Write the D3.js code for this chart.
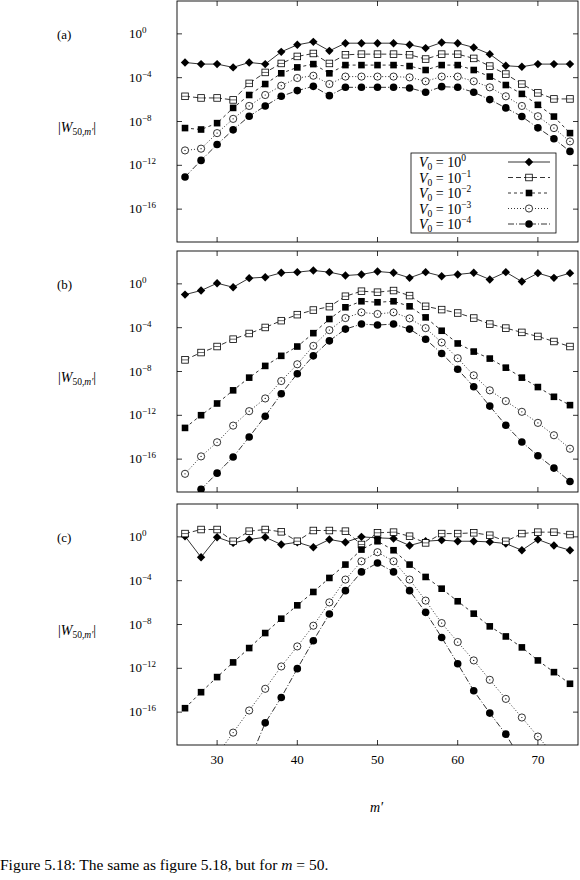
<!DOCTYPE html>
<html><head><meta charset="utf-8">
<script src="https://cdn.jsdelivr.net/npm/d3@7"></script>
<style>body{margin:0;background:#fff}svg{font-family:"Liberation Serif","DejaVu Serif",serif}</style>
</head><body><svg id="c" width="580" height="880"></svg>
<script>
// m' values (even 26..74)
const mVals = d3.range(26, 75, 2);
const xTicks = [30, 40, 50, 60, 70];
const yTickExps = [0, -4, -8, -12, -16];
const panelLabels = ["(a)", "(b)", "(c)"];
const legendExps = ["0", "\u22121", "\u22122", "\u22123", "\u22124"];
// log10 |W| per series per panel
const a1 = [-2.61,-2.76,-2.76,-3.06,-2.61,-2.76,-1.64,-1.0,-0.73,-1.55,-0.85,-0.85,-0.85,-0.85,-1.0,-1.3,-0.79,-0.85,-1.24,-1.85,-2.91,-3.0,-2.76,-2.76,-2.76];
const a2 = [-5.7,-5.85,-5.85,-6.03,-4.52,-3.52,-2.7,-2.06,-1.79,-2.7,-1.91,-1.85,-1.85,-1.85,-1.91,-2.3,-1.85,-1.85,-2.24,-2.94,-3.67,-4.58,-5.39,-5.94,-5.94];
const a3 = [-8.6,-8.73,-8.15,-6.76,-5.58,-4.58,-3.6,-3.06,-2.76,-3.6,-2.85,-2.85,-2.85,-2.85,-2.94,-3.3,-2.85,-2.85,-3.3,-3.9,-4.67,-5.48,-6.48,-7.55,-9.06];
const a4 = [-10.64,-10.48,-9.06,-7.76,-6.58,-5.58,-4.73,-4.03,-3.82,-4.58,-3.9,-3.9,-3.9,-3.9,-3.97,-4.33,-3.9,-3.9,-4.33,-4.88,-5.7,-6.58,-7.52,-8.6,-9.82];
const a5 = [-13.06,-11.55,-10.1,-8.76,-7.52,-6.58,-5.7,-5.18,-4.79,-5.64,-4.88,-4.88,-4.88,-4.88,-4.94,-5.33,-4.82,-4.88,-5.33,-6.0,-6.76,-7.55,-8.58,-9.58,-10.73];
const b1 = [-0.98,-0.61,0.06,-0.31,0.52,0.61,1.01,1.07,1.22,1.07,0.76,0.86,1.13,1.01,0.55,1.07,0.7,0.86,1.01,0.4,1.07,0.21,0.98,0.55,0.98];
const b2 = [-6.94,-6.27,-5.72,-5.05,-4.53,-3.98,-3.36,-2.81,-2.39,-2.08,-1.13,-0.67,-0.76,-0.61,-1.07,-2.05,-2.35,-2.66,-3.12,-3.67,-4.04,-4.43,-4.8,-5.26,-5.72];
const b3 = [-13.15,-11.99,-10.92,-9.72,-8.56,-7.49,-6.57,-5.72,-4.5,-3.21,-2.14,-1.59,-1.68,-1.59,-2.05,-3.06,-4.28,-5.44,-6.18,-6.82,-7.65,-8.56,-9.42,-10.31,-11.07];
const b4 = [-17.34,-15.75,-14.46,-12.94,-11.62,-10.46,-8.87,-7.34,-5.66,-4.22,-3.12,-2.6,-2.75,-2.6,-3.15,-4.04,-5.35,-6.79,-8.35,-9.72,-10.7,-11.68,-12.69,-13.82,-15.05];
const b5 = [-20.2,-18.75,-17.28,-15.81,-13.98,-12.08,-10.03,-8.2,-6.57,-5.2,-4.13,-3.67,-3.76,-3.67,-4.13,-5.05,-6.36,-7.8,-9.39,-11.16,-12.91,-14.43,-15.69,-16.82,-18.04];
const c1 = [0.06,-1.86,-0.03,-0.55,-0.24,-0.03,-0.7,-0.49,-0.95,-0.24,-0.49,0,-0.09,-0.15,-0.79,-0.4,-0.3,-0.4,-0.4,-0.46,-0.61,-1.22,-0.24,-0.79,-1.22];
const c2 = [0.3,0.67,0.67,-0.4,0.52,0.67,0.46,-0.4,0.58,0.58,0.52,-0.7,0.37,0.43,0.06,-0.55,0.3,0.3,0.37,0.15,-0.4,0.3,0.43,0.43,0.21];
const c3 = [-15.64,-14.18,-12.8,-11.46,-10.15,-8.78,-7.47,-6.25,-5.03,-3.75,-2.53,-1.16,-0.4,-1.22,-2.53,-3.66,-4.73,-5.88,-7.01,-8.17,-9.09,-10.09,-11.28,-12.35,-13.41];
const c4m = d3.range(30, 73, 2);
const c4 = [-19.9,-17.87,-15.85,-13.87,-11.83,-10.0,-8.11,-5.98,-3.9,-2.23,-1.4,-2.23,-3.9,-5.82,-7.87,-9.6,-11.28,-13.05,-14.79,-16.49,-18.23,-19.9];
const c5m = d3.range(34, 69, 2);
const c5 = [-20.5,-16.98,-14.66,-12.03,-9.48,-7.04,-4.91,-3.2,-2.38,-3.2,-4.91,-6.89,-9.18,-11.58,-14.05,-16.09,-18.01,-20.5];

const panels = [
  {top: 1, series: [[mVals,a1],[mVals,a2],[mVals,a3],[mVals,a4],[mVals,a5]], legend: true},
  {top: 251, series: [[mVals,b1],[mVals,b2],[mVals,b3],[mVals,b4],[mVals,b5]]},
  {top: 504, series: [[mVals,c1],[mVals,c2],[mVals,c3],[c4m,c4],[c5m,c5]]}
];
const dashes = [null, "5,3", "3,3", "1,2", "6,2,1,2"];
const L = 177, R = 578, H = 241;
const svg = d3.select("#c");
const x = d3.scaleLinear().domain([25, 75]).range([L, R]);

function marker(g, k, px, py) {
  if (k === 0) g.append("path").attr("d", `M${px},${py-4.2}L${px+4.2},${py}L${px},${py+4.2}L${px-4.2},${py}Z`).attr("fill", "#000");
  else if (k === 1) { g.append("rect").attr("x", px-3.3).attr("y", py-3.3).attr("width", 6.6).attr("height", 6.6).attr("fill", "#fff").attr("stroke", "#000").attr("stroke-width", 0.8);
    g.append("line").attr("x1", px-3.3).attr("x2", px+3.3).attr("y1", py).attr("y2", py).attr("stroke", "#000").attr("stroke-width", 0.6); }
  else if (k === 2) g.append("rect").attr("x", px-3.3).attr("y", py-3.3).attr("width", 6.6).attr("height", 6.6).attr("fill", "#000");
  else if (k === 3) { g.append("circle").attr("cx", px).attr("cy", py).attr("r", 3.6).attr("fill", "#fff").attr("stroke", "#000").attr("stroke-width", 0.8);
    g.append("circle").attr("cx", px).attr("cy", py).attr("r", 0.6).attr("fill", "#000"); }
  else g.append("circle").attr("cx", px).attr("cy", py).attr("r", 3.8).attr("fill", "#000");
}

panels.forEach((p, i) => {
  const y = d3.scaleLinear().domain([-19, 3]).range([p.top + H, p.top]);
  const clipId = "clip" + i;
  svg.append("clipPath").attr("id", clipId).append("rect").attr("x", L).attr("y", p.top).attr("width", R - L).attr("height", H);
  const g = svg.append("g").attr("clip-path", `url(#${clipId})`);
  p.series.forEach(([ms, vs], k) => {
    const pts = ms.map((m, j) => [m, vs[j]]);
    const line = d3.line().x(d => x(d[0])).y(d => y(d[1]));
    g.append("path").attr("d", line(pts)).attr("fill", "none").attr("stroke", "#000").attr("stroke-width", 0.8).attr("stroke-dasharray", dashes[k]);
    pts.forEach(d => marker(g, k, x(d[0]), y(d[1])));
  });
  svg.append("rect").attr("x", L).attr("y", p.top).attr("width", R - L).attr("height", H).attr("fill", "none").attr("stroke", "#000").attr("stroke-width", 0.9);
  const tg = svg.append("g").attr("stroke", "#000").attr("stroke-width", 0.8);
  xTicks.forEach(t => {
    tg.append("line").attr("x1", x(t)).attr("x2", x(t)).attr("y1", p.top + H).attr("y2", p.top + H - 5);
    tg.append("line").attr("x1", x(t)).attr("x2", x(t)).attr("y1", p.top).attr("y2", p.top + 5);
  });
  yTickExps.forEach(t => {
    tg.append("line").attr("x1", L).attr("x2", L + 5).attr("y1", y(t)).attr("y2", y(t));
    tg.append("line").attr("x1", R).attr("x2", R - 5).attr("y1", y(t)).attr("y2", y(t));
    const tx = svg.append("text").attr("x", 129).attr("y", y(t) + 4).attr("font-size", 13).attr("fill", "#000");
    tx.append("tspan").text("10");
    tx.append("tspan").attr("dy", -5).attr("font-size", 9).text(t === 0 ? "0" : "\u2212" + (-t));
  });
  svg.append("text").attr("x", 57).attr("y", p.top + 38).attr("font-size", 13).attr("fill", "#000").text(panelLabels[i]);
  const yl = svg.append("text").attr("x", 58).attr("y", p.top + 131).attr("font-size", 14).attr("fill", "#000");
  yl.append("tspan").text("|");
  yl.append("tspan").attr("font-style", "italic").text("W");
  yl.append("tspan").attr("dy", 3).attr("font-size", 9.5).text("50,");
  yl.append("tspan").attr("font-size", 9.5).attr("font-style", "italic").text("m\u2032");
  yl.append("tspan").attr("dy", -3).text("|");

  if (p.legend) {
    const lg = svg.append("g");
    lg.append("rect").attr("x", 411).attr("y", 153).attr("width", 145).attr("height", 80).attr("fill", "#fff").attr("stroke", "#000").attr("stroke-width", 0.8);
    legendExps.forEach((e, k) => {
      const ly = 162 + k * 15.5;
      const t = lg.append("text").attr("x", 419).attr("y", ly + 5).attr("font-size", 14).attr("fill", "#000");
      t.append("tspan").attr("font-style", "italic").text("V");
      t.append("tspan").attr("dy", 3).attr("font-size", 9.5).text("0");
      t.append("tspan").attr("dy", -3).text(" = 10");
      t.append("tspan").attr("dy", -6).attr("font-size", 9.5).text(e);
      lg.append("line").attr("x1", 508).attr("x2", 550).attr("y1", ly).attr("y2", ly).attr("stroke", "#000").attr("stroke-width", 0.8).attr("stroke-dasharray", dashes[k]);
      marker(lg, k, 529, ly);
    });
  }
});
xTicks.forEach(t => svg.append("text").attr("x", x(t)).attr("y", 764).attr("text-anchor", "middle").attr("font-size", 13).attr("fill", "#000").text(t));
svg.append("text").attr("x", 370).attr("y", 812).attr("font-size", 14).attr("font-style", "italic").attr("fill", "#000").text("m\u2032");
const cap = svg.append("text").attr("x", 0).attr("y", 870).attr("font-size", 15.5).attr("fill", "#000");
cap.append("tspan").text("Figure 5.18: The same as figure 5.18, but for ");
cap.append("tspan").attr("font-style", "italic").text("m");
cap.append("tspan").text(" = 50.");
</script></body></html>
